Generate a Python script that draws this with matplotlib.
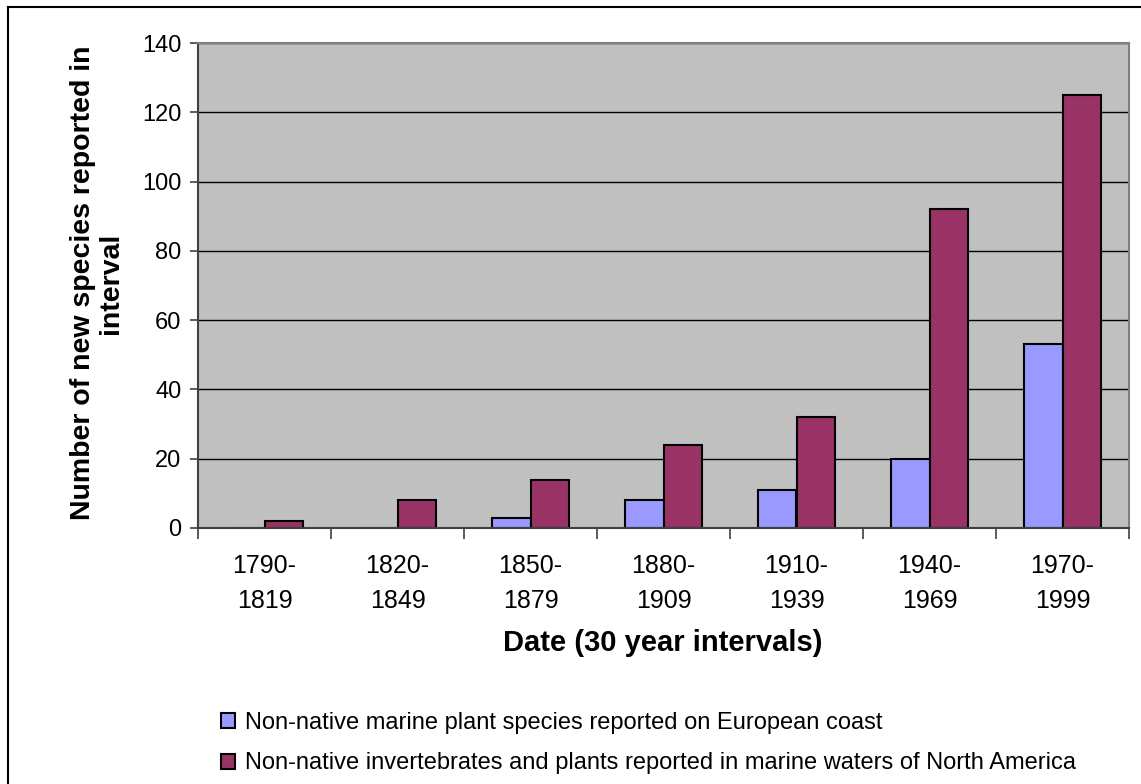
import matplotlib
matplotlib.use("Agg")
import matplotlib.pyplot as plt
from matplotlib.lines import Line2D
import numpy as np

plt.rcParams['font.family'] = ['Liberation Sans', 'DejaVu Sans']

intervals = ["1790-\n1819", "1820-\n1849", "1850-\n1879", "1880-\n1909",
             "1910-\n1939", "1940-\n1969", "1970-\n1999"]
europe_plants = [0, 0, 3, 8, 11, 20, 53]
north_america = [2, 8, 14, 24, 32, 92, 125]
series_names = ["Non-native marine plant species reported on European coast",
                "Non-native invertebrates and plants reported in marine waters of North America"]
y_ticks = [0, 20, 40, 60, 80, 100, 120, 140]

W, H = 1141, 784
fig = plt.figure(figsize=(W / 100, H / 100), dpi=100)
fig.patch.set_facecolor("white")
ax = fig.add_axes([198 / W, 1 - 528 / H, 931 / W, 485 / H])
ax.set_facecolor("#C0C0C0")

x = np.arange(len(intervals))
w = 0.286
b1 = ax.bar(x - w / 2, europe_plants, w, color="#9999FF", edgecolor="black",
            linewidth=1.5, zorder=3, label=series_names[0])
b2 = ax.bar(x + w / 2, north_america, w, color="#993366", edgecolor="black",
            linewidth=1.5, zorder=3, label=series_names[1])

ax.set_xlim(-0.5, len(intervals) - 0.5)
ax.set_ylim(0, 140)
ax.set_yticks(y_ticks)
ax.yaxis.grid(True, color="black", linewidth=1.0, zorder=1)
ax.set_axisbelow(True)

ax.set_xticks(x)
ax.set_xticklabels(intervals, fontsize=18, linespacing=1.55)
ax.set_xticks(np.arange(-0.5, len(intervals)), minor=True)
ax.tick_params(axis="x", which="major", length=0, pad=19)
ax.tick_params(axis="x", which="minor", length=8, width=1.2, color="#404040")
ax.tick_params(axis="y", length=6, width=1.2, color="#404040", labelsize=17, pad=6)

for side in ("top", "right"):
    ax.spines[side].set_color("#808080")
    ax.spines[side].set_linewidth(1.5)
for side in ("left", "bottom"):
    ax.spines[side].set_color("#404040")
    ax.spines[side].set_linewidth(1.5)
for sp in ax.spines.values():
    sp.set_zorder(4)

fig.text(663 / W, 1 - 643 / H, "Date (30 year intervals)", fontsize=21,
         fontweight="bold", ha="center", va="center")
fig.text(97 / W, 1 - 283 / H, "Number of new species reported in\ninterval", fontsize=20.5,
         fontweight="bold", ha="center", va="center", rotation=90, linespacing=1.1)

fig.legend(handles=[b1, b2], loc="upper left", bbox_to_anchor=(221 / W, 1 - 712 / H),
           frameon=False, fontsize=17, handlelength=0.6, handleheight=0.6,
           handletextpad=0.4, labelspacing=0.78, borderaxespad=0, borderpad=0)

# outer chart frame (left and top edges)
fig.add_artist(Line2D([8 / W, 8 / W], [0, 1 - 7 / H], transform=fig.transFigure,
                      color="black", linewidth=1.5))
fig.add_artist(Line2D([8 / W, 1], [1 - 7 / H, 1 - 7 / H], transform=fig.transFigure,
                      color="black", linewidth=1.5))

fig.savefig("out.png", dpi=100)
